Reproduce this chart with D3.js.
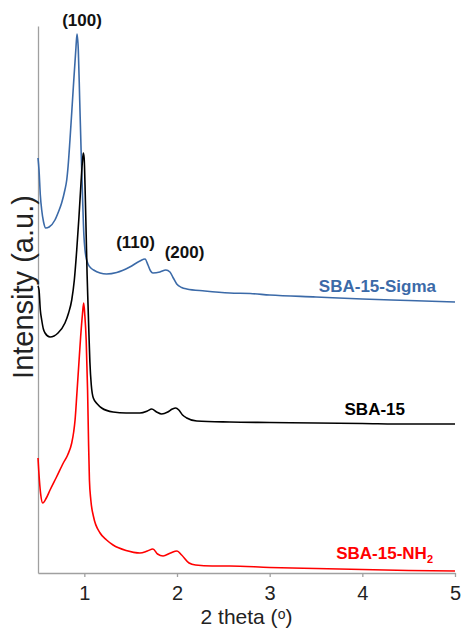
<!DOCTYPE html>
<html>
<head>
<meta charset="utf-8">
<script src="https://cdn.jsdelivr.net/npm/d3@7/dist/d3.min.js"></script>
<style>
  html, body { margin: 0; padding: 0; background: #fff; }
  svg { display: block; }
  text { font-family: "Liberation Sans", Arial, sans-serif; }
</style>
</head>
<body>
<svg id="chart" width="462" height="629"></svg>
<script>
// ---- data (2 theta in degrees, intensity in arbitrary units) ----
const sigmaTheta = [0.50,0.511,0.525,0.54,0.56,0.583,0.62,0.683,0.72,0.755,0.79,0.81,0.825,0.845,0.878,0.91,0.921,0.935,0.95,0.965,0.98,0.995,1.007,1.02,1.04,1.07,1.1,1.17,1.24,1.35,1.49,1.6,1.655,1.687,1.715,1.74,1.816,1.88,1.924,1.96,1.997,2.05,2.105,2.3,2.57,2.79,3.0,3.5,4.0,4.5,5.0];
const sigmaInt   = [415,403,378,363,351,345,346,353,361,370,383,393,407,433,481,526,539,523,473,423,378,338,323,315,309,305,303,300,299,300.5,306,312,314,308,302,300,301,303,301,295,289,285.5,284,282,280,279.5,278,276,274,272.5,271];

const sbaTheta = [0.5,0.511,0.525,0.54,0.558,0.576,0.63,0.716,0.791,0.83,0.864,0.892,0.918,0.942,0.964,0.978,0.989,0.998,1.01,1.02,1.03,1.04,1.05,1.06,1.075,1.097,1.14,1.187,1.31,1.45,1.6,1.68,1.727,1.78,1.835,1.9,1.95,1.986,2.02,2.06,2.105,2.213,2.57,3,3.5,4,4.5,5];
const sbaInt   = [287,283,263,253,244,240,236,240,250,260,273,293,323,356,390,410,420,415,378,338,298,268,238,211,188,175,169,165,161,160,160,162,164,161,159,161,164,165,163,158,155,152,151,150.5,150,149.5,149,149];

const nh2Theta = [0.5,0.515,0.53,0.551,0.59,0.63,0.7,0.773,0.82,0.864,0.885,0.9,0.92,0.94,0.96,0.98,0.993,1.005,1.02,1.035,1.045,1.055,1.07,1.1,1.17,1.24,1.31,1.45,1.6,1.68,1.74,1.79,1.85,1.93,2.0,2.05,2.13,2.2,2.38,2.57,3,3.5,4,4.5,5];
const nh2Int   = [115,93,78,70,75,83,96,110,118,130,141,153,180,208,236,259,270,258,233,183,133,93,73,56,40,33,28,22.5,20,22,24,19,17,20,22,18,10,8,7,7,5.5,4.5,3.5,2.5,2];

const xTicks = [1, 2, 3, 4, 5];
const seriesNames = ["SBA-15-Sigma", "SBA-15", "SBA-15-NH"];
const peakLabels = ["(100)", "(110)", "(200)"];

// ---- layout ----
const svg = d3.select("#chart");
const mLeft = 38, mRight = 455, mTop = 26, mBottom = 573;
const x = d3.scaleLinear().domain([0.5, 5]).range([mLeft, mRight]);
const y = d3.scaleLinear().domain([0, 547]).range([mBottom, mTop]);

const blue = "#3b6aa8", red = "#ff0000", black = "#000000", axisGrey = "#a0a0a0";

// axes
const xAxis = d3.axisBottom(x).tickValues(xTicks).tickFormat(d3.format("d"))
  .tickSize(4).tickSizeOuter(0).tickPadding(9);
const gx = svg.append("g").attr("transform", `translate(0,${mBottom})`).call(xAxis);
gx.select(".domain").attr("stroke", axisGrey).attr("stroke-width", 1.3);
gx.selectAll(".tick line").attr("stroke", axisGrey).attr("stroke-width", 1.3);
gx.selectAll(".tick text").attr("fill", "#222").style("font-size", "20px")
  .style("font-family", "'Liberation Sans', Arial, sans-serif");

const yAxis = d3.axisLeft(y).tickValues([]).tickSizeOuter(0);
const gy = svg.append("g").attr("transform", `translate(${mLeft},0)`).call(yAxis);
gy.select(".domain").attr("stroke", axisGrey).attr("stroke-width", 1.3);

// axis titles
const xt = svg.append("text").attr("x", (mLeft + mRight) / 2).attr("y", 624)
  .attr("text-anchor", "middle").style("font-size", "21px").attr("fill", "#222");
xt.append("tspan").text("2 theta (");
xt.append("tspan").text("o").style("font-size", "14px").attr("dy", -5);
xt.append("tspan").text(")").attr("dy", 5);

svg.append("text").attr("transform", "translate(33,287) rotate(-90)")
  .attr("text-anchor", "middle").style("font-size", "29px").attr("fill", "#222")
  .text("Intensity (a.u.)");

// lines
const line = d3.line().x(d => x(d[0])).y(d => y(d[1])).curve(d3.curveMonotoneX);
const series = [
  { t: sigmaTheta, v: sigmaInt, c: blue },
  { t: sbaTheta, v: sbaInt, c: black },
  { t: nh2Theta, v: nh2Int, c: red }
];
series.forEach(s => {
  svg.append("path").datum(s.t.map((t, i) => [t, s.v[i]]))
    .attr("fill", "none").attr("stroke", s.c).attr("stroke-width", 1.6)
    .attr("stroke-linejoin", "round").attr("d", line);
});

// peak labels
const lbl = (txt, cx, by) => svg.append("text").attr("x", cx).attr("y", by)
  .attr("text-anchor", "middle").style("font-size", "17px").style("font-weight", "bold")
  .attr("fill", "#111").text(txt);
lbl(peakLabels[0], 82, 26);
lbl(peakLabels[1], 135.5, 248);
lbl(peakLabels[2], 184.5, 258);

// series labels
svg.append("text").attr("x", 436).attr("y", 292).attr("text-anchor", "end")
  .style("font-size", "17px").style("font-weight", "bold").attr("fill", blue).text(seriesNames[0]);
svg.append("text").attr("x", 405).attr("y", 415).attr("text-anchor", "end")
  .style("font-size", "17px").style("font-weight", "bold").attr("fill", black).text(seriesNames[1]);
const nt = svg.append("text").attr("x", 433).attr("y", 559).attr("text-anchor", "end")
  .style("font-size", "17px").style("font-weight", "bold").attr("fill", red);
nt.append("tspan").text(seriesNames[2]);
nt.append("tspan").text("2").style("font-size", "11px").attr("dy", 4);
</script>
</body>
</html>
